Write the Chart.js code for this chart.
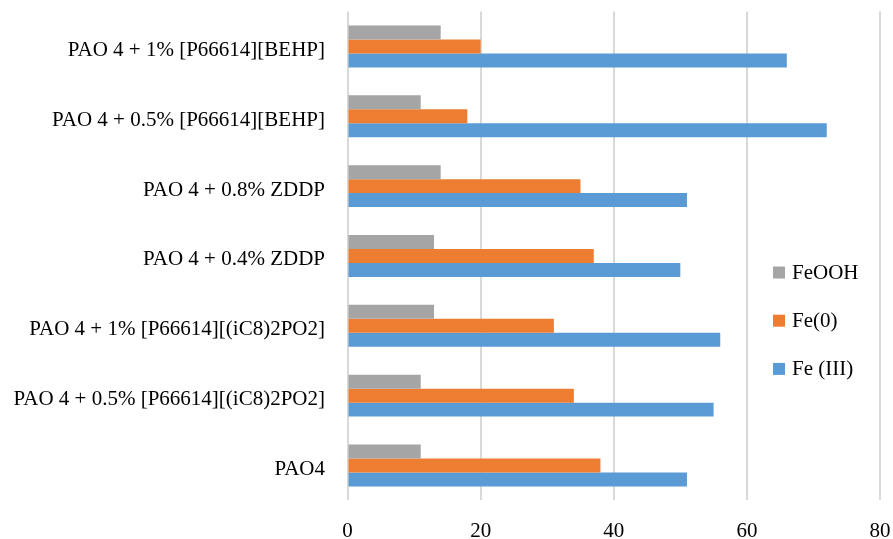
<!DOCTYPE html>
<html>
<head>
<meta charset="utf-8">
<script src="https://cdn.jsdelivr.net/npm/chart.js@4/dist/chart.umd.min.js"></script>
<style>
  body { margin: 0; background: #fff; }
</style>
</head>
<body>
<canvas id="grafico" width="893" height="539"></canvas>
<script>
// Categorias (de cima para baixo)
const categorias = [
    "PAO 4 + 1% [P66614][BEHP]",
    "PAO 4 + 0.5% [P66614][BEHP]",
    "PAO 4 + 0.8% ZDDP",
    "PAO 4 + 0.4% ZDDP",
    "PAO 4 + 1% [P66614][(iC8)2PO2]",
    "PAO 4 + 0.5% [P66614][(iC8)2PO2]",
    "PAO4"
];

// Séries
const feOOH = [14, 11, 14, 13, 13, 11, 11];
const fe0 = [20, 18, 35, 37, 31, 34, 38];
const feIII = [66, 72, 51, 50, 56, 55, 51];

const ticksX = [0, 20, 40, 60, 80];

const fonte = "'Liberation Serif', 'Times New Roman', serif";

// Legenda desenhada dentro da área do gráfico (como no original)
const legendaInterna = {
    id: "legendaInterna",
    afterDraw(chart) {
        const ctx = chart.ctx;
        const area = chart.chartArea;
        const x = area.right - 107;
        let y = 272.5;
        ctx.save();
        ctx.font = "21px " + fonte;
        ctx.textBaseline = "middle";
        ctx.textAlign = "left";
        chart.data.datasets.forEach(ds => {
            ctx.fillStyle = ds.backgroundColor;
            ctx.fillRect(x, y - 6, 12, 12);
            ctx.fillStyle = "#000";
            ctx.fillText(ds.label, x + 19, y + 1);
            y += 48.2;
        });
        ctx.restore();
    }
};

const ctx = document.getElementById("grafico").getContext("2d");

new Chart(ctx, {
    type: "bar",
    data: {
        labels: categorias,
        datasets: [
            { label: "FeOOH", data: feOOH, backgroundColor: "#A5A5A5" },
            { label: "Fe(0)", data: fe0, backgroundColor: "#ED7D31" },
            { label: "Fe (III)", data: feIII, backgroundColor: "#5B9BD5" },
        ],
    },
    options: {
        indexAxis: "y",
        responsive: false,
        animation: false,
        layout: {
            padding: { top: 0, right: 13, left: 0, bottom: 0 },
        },
        datasets: {
            bar: { categoryPercentage: 0.6, barPercentage: 1.0 },
        },
        plugins: {
            legend: { display: false },
            tooltip: { enabled: false },
        },
        scales: {
            x: {
                min: 0,
                max: 80,
                afterBuildTicks: axis => {
                    axis.ticks = ticksX.map(v => ({ value: v }));
                },
                afterFit: axis => { axis.height = 38.6; },
                grid: {
                    color: "#d9d9d9",
                    lineWidth: 2,
                    drawTicks: true,
                    tickLength: 18,
                    tickColor: "rgba(0,0,0,0)",
                },
                border: { display: false },
                ticks: {
                    padding: 0,
                    color: "#000",
                    font: { family: fonte, size: 21 },
                },
            },
            y: {
                afterFit: axis => { axis.width = 347.5; },
                grid: {
                    display: true,
                    drawOnChartArea: false,
                    drawTicks: true,
                    tickLength: 22.5,
                    tickColor: "rgba(0,0,0,0)",
                },
                border: { display: false },
                ticks: {
                    padding: 0,
                    labelOffset: 4,
                    color: "#000",
                    font: { family: fonte, size: 21, lineHeight: 1.1 },
                },
            },
        },
    },
    plugins: [legendaInterna],
});
</script>
</body>
</html>
